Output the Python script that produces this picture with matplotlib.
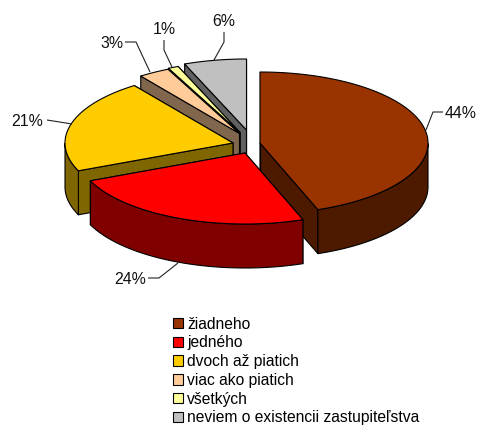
import numpy as np
import matplotlib
matplotlib.use("Agg")
import matplotlib.pyplot as plt
from matplotlib.patches import Polygon, Patch

# ---- data ----
categories = ["žiadneho", "jedného", "dvoch až piatich", "viac ako piatich",
              "všetkých", "neviem o existencii zastupiteľstva"]
values = [44.4, 24.2, 21.4, 3.0, 1.0, 6.0]
labels = ["44%", "24%", "21%", "3%", "1%", "6%"]

# ---- style / layout ----
top_colors = ["#993300", "#FF0000", "#FFCC00", "#FFCC99", "#FFFF99", "#C0C0C0"]
side_colors = ["#4D1A00", "#800000", "#806600", "#80664D", "#80804D", "#606060"]
centres = [(260, 143), (245, 153), (233, 143), (239.5, 133.5), (240, 132.5), (246.5, 130)]
RX, RY, DEPTH = 168, 71, 44
leaders = [
    [(426, 130), (433, 112), (443, 112)],
    [(178, 263), (159, 278), (148, 278)],
    [(72, 124), (47, 120)],
    [(150, 72), (136, 42), (125, 42)],
    [(172, 67), (164, 50), (164, 40)],
    [(214, 60), (224, 42), (224, 32)],
]
label_pos = [(461, 113), (130, 279), (27, 121), (112, 43), (164, 29), (224, 21)]
paint_order = [5, 4, 3, 2, 0, 1]

plt.rcParams["font.family"] = ["Liberation Sans", "DejaVu Sans"]
fig = plt.figure(figsize=(4.78, 4.25), dpi=100)
ax = fig.add_axes([0, 0, 1, 1])
ax.set_xlim(0, 478)
ax.set_ylim(425, 0)
ax.axis("off")

angles = np.concatenate([[0], np.cumsum(values)]) / np.sum(values) * 2 * np.pi


def rim(c, t):
    return np.column_stack([c[0] + RX * np.sin(t), c[1] - RY * np.cos(t)])


EDGE = dict(edgecolor="black", linewidth=0.8, joinstyle="round")
for i in paint_order:
    c = centres[i]
    t = np.linspace(angles[i], angles[i + 1], 160)
    r = rim(c, t)
    down = np.array([0, DEPTH])
    apex = np.array(c, float)
    for k in (-1, 0):
        q = r[k]
        ax.add_patch(Polygon([apex, q, q + down, apex + down], closed=True,
                             facecolor=side_colors[i], **EDGE))
    mask = (t >= np.pi / 2) & (t <= 3 * np.pi / 2)
    if mask.any():
        w = r[mask]
        ax.add_patch(Polygon(np.vstack([w, (w + down)[::-1]]), closed=True,
                             facecolor=side_colors[i], **EDGE))
    ax.add_patch(Polygon(np.vstack([apex, r]), closed=True,
                         facecolor=top_colors[i], **EDGE))

for pts, lab, pos in zip(leaders, labels, label_pos):
    xs, ys = zip(*pts)
    ax.plot(xs, ys, color="#222222", lw=0.8, solid_capstyle="butt")
    ax.text(pos[0], pos[1], lab, ha="center", va="center", fontsize=11.4, color="#111111")

handles = [Patch(facecolor=col, edgecolor="black", linewidth=0.8) for col in top_colors]
ax.legend(handles, categories, loc="upper left", bbox_to_anchor=(168 / 478, 1 - 312 / 425),
          frameon=False, fontsize=11.25, handlelength=0.65, handleheight=0.65,
          handletextpad=0.28, labelspacing=0.24, borderpad=0.3, borderaxespad=0)

fig.savefig("out.png", dpi=100, facecolor="white")
